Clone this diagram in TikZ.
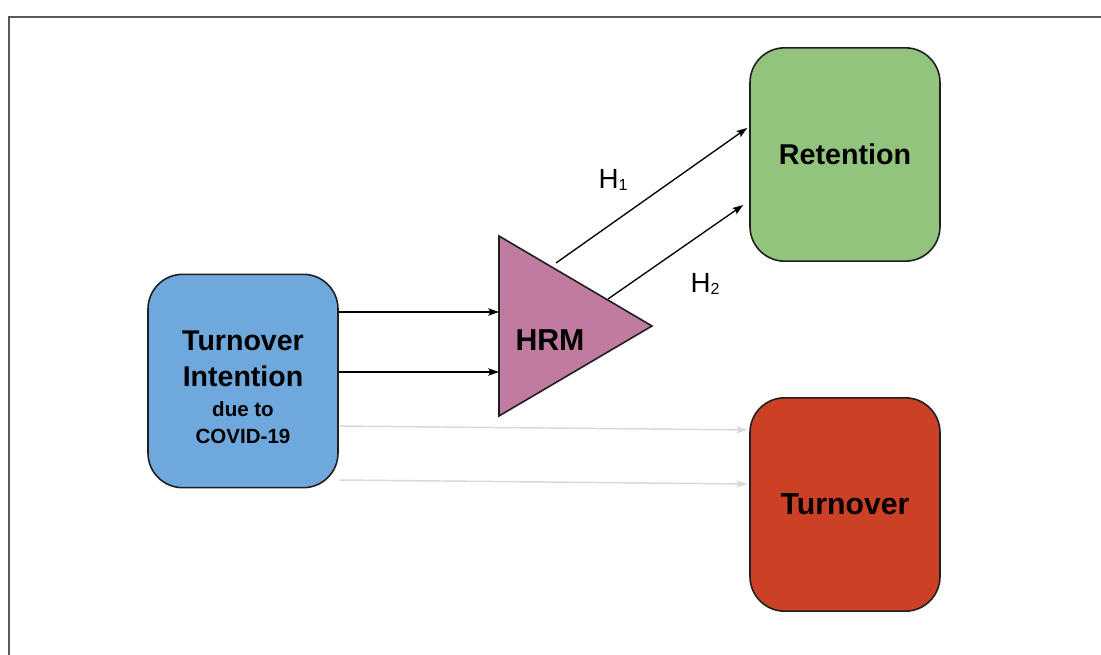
\documentclass[tikz,border=0pt]{standalone}
\usepackage{fontspec}
\setmainfont{Liberation Sans}
\usetikzlibrary{arrows.meta}
\definecolor{boxblue}{HTML}{6FA8DC}
\definecolor{boxgreen}{HTML}{93C47D}
\definecolor{boxred}{HTML}{CC4125}
\definecolor{hrmpink}{HTML}{C27BA0}
\definecolor{faint}{HTML}{D9D9D9}
\definecolor{edge}{HTML}{1F1F1F}
\tikzset{
  box/.style={draw=edge, line width=1.2pt, rounded corners=26pt,
    minimum width=142.5pt, minimum height=160pt, inner sep=0pt,
    align=center, font=\bfseries},
  link/.style={line width=1pt, -{Stealth[length=8pt,width=5.5pt,inset=1.5pt]}},
  linkfaint/.style={link, draw=faint, line width=1.1pt, color=faint},
  hlabel/.style={font=\fontsize{20.8pt}{24pt}\selectfont, inner sep=0pt}
}
\begin{document}
\begin{tikzpicture}[x=0.75pt, y=-0.75pt]
\useasboundingbox (0,0) rectangle (1101,655);
\fill[white] (0,0) rectangle (1101,655);
% outer frame of the figure
\draw[line width=1.1pt, draw=black!65] (9,17) rectangle (1120,680);

% boxes
\node[box, fill=boxblue] (tin) at (243,381) {};
\node[align=center, inner sep=0pt, font=\bfseries\fontsize{21.4pt}{27pt}\selectfont] (tintext) at (243,387)
  {Turnover\\
   Intention\\[-4.5pt]
   {\fontsize{15.4pt}{20pt}\selectfont due to}\\[-6.75pt]
   {\fontsize{15.4pt}{20pt}\selectfont COVID-19}};
\node[box, fill=boxgreen] (ret) at (845,154.5)
  {\fontsize{21.5pt}{26pt}\selectfont Retention};
\node[box, fill=boxred] (to) at (845,504.5)
  {\fontsize{22.7pt}{26pt}\selectfont\raisebox{-2pt}{Turnover}};

% HRM triangle
\coordinate (tl) at (499,236);
\coordinate (bl) at (499,416);
\coordinate (apex) at (652,326);
\filldraw[fill=hrmpink, draw=edge, line width=1.2pt, line join=miter]
  (tl) -- (apex) -- (bl) -- cycle;
\node[font=\bfseries\fontsize{22.7pt}{26pt}\selectfont, inner sep=0pt] (hrm) at (550,340) {HRM};

% entry points on the triangle
\coordinate (in1) at (499,312);
\coordinate (in2) at (499,372);
\coordinate (out1) at (556,263);
\coordinate (out2) at (608,299);

% connectors into HRM
\draw[link] (tin.east |- in1) -- (in1);
\draw[link] (tin.east |- in2) -- (in2);

% connectors from HRM to Retention
\draw[link] (out1) -- ([xshift=-1.5pt,yshift=19.9pt]ret.west);
\draw[link] (out2) -- ([xshift=-4.5pt,yshift=-37.9pt]ret.west);

% direct connectors to Turnover
\draw[linkfaint] ([yshift=-33.75pt]tin.east) -- ([xshift=-1.5pt,yshift=55.9pt]to.west);
\draw[linkfaint] ([yshift=-74.25pt]tin.east) -- ([xshift=-1.5pt,yshift=15.4pt]to.west);

% hypothesis labels
\node[hlabel] (h1) at (613,180) {H{\fontsize{12pt}{14pt}\selectfont\raisebox{-2pt}{1}}};
\node[hlabel] (h2) at (705,284) {H{\fontsize{12pt}{14pt}\selectfont\raisebox{-2pt}{2}}};
\end{tikzpicture}
\end{document}
